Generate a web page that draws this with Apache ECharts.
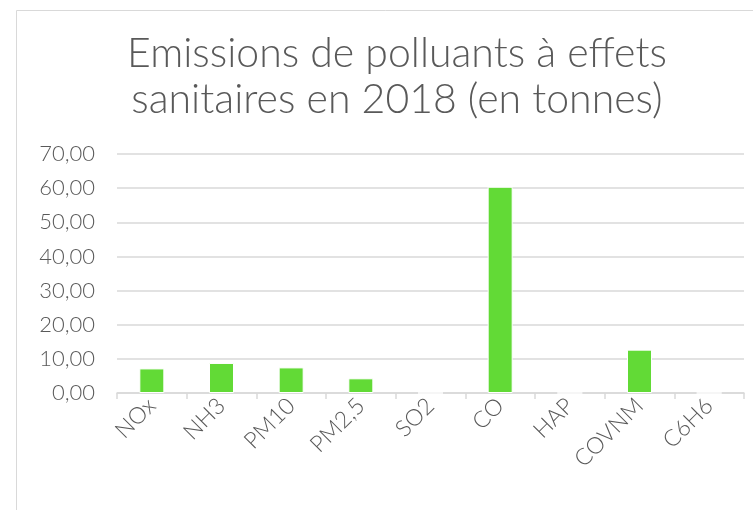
<!DOCTYPE html>
<html>
<head>
<meta charset="utf-8">
<script src="https://cdn.jsdelivr.net/npm/echarts@6/dist/echarts.min.js"></script>
<style>
  html, body { margin: 0; padding: 0; background: #fff; }
  #chart { width: 753px; height: 510px; }
</style>
</head>
<body>
<div id="chart"></div>
<script>
// données
const categories = ['NOx', 'NH3', 'PM10', 'PM2,5', 'SO2', 'CO', 'HAP', 'COVNM', 'C6H6'];
const values = [7.2, 8.8, 7.5, 4.3, 0, 60.4, 0, 12.7, 0];
const titleLines = ['Emissions de polluants à effets', 'sanitaires en 2018 (en tonnes)'];

const textColor = '#595959';
const lineColor = '#d9d9d9';
const font = 'Lato';

const myChart = echarts.init(document.getElementById('chart'));

const option = {
  animation: false,
  // cadre de la zone du graphique
  graphic: [{
    type: 'rect',
    shape: { x: 16.5, y: 10.5, width: 800, height: 600 },
    style: { fill: 'none', stroke: lineColor, lineWidth: 1 },
    silent: true
  }],
  title: {
    text: titleLines.join('\n'),
    left: 392,
    top: 26,
    textAlign: 'center',
    textStyle: {
      fontFamily: font,
      fontSize: 41,
      lineHeight: 46,
      fontWeight: 300,
      color: textColor
    }
  },
  grid: {
    left: 117,
    right: 9,
    top: 154,
    bottom: 117,
    outerBoundsMode: 'none'
  },
  xAxis: {
    type: 'category',
    data: categories,
    axisLine: { lineStyle: { color: lineColor, width: 1.5 } },
    axisTick: { show: true, length: 6, lineStyle: { color: lineColor, width: 1.5 } },
    axisLabel: {
      rotate: 45,
      margin: 9,
      fontFamily: font,
      fontSize: 23,
      fontWeight: 300,
      color: textColor
    }
  },
  yAxis: {
    type: 'value',
    min: 0,
    max: 70,
    interval: 10,
    axisLine: { show: false },
    axisTick: { show: false },
    splitLine: { lineStyle: { color: lineColor, width: 1.5 } },
    axisLabel: {
      margin: 22,
      fontFamily: font,
      fontSize: 22,
      fontWeight: 300,
      color: textColor,
      formatter: v => v.toFixed(2).replace('.', ',')
    }
  },
  series: [{
    type: 'bar',
    data: values,
    barWidth: 25,
    itemStyle: { color: '#62da36', borderColor: '#ffffff', borderWidth: 1 }
  }]
};

myChart.setOption(option);
</script>
</body>
</html>
